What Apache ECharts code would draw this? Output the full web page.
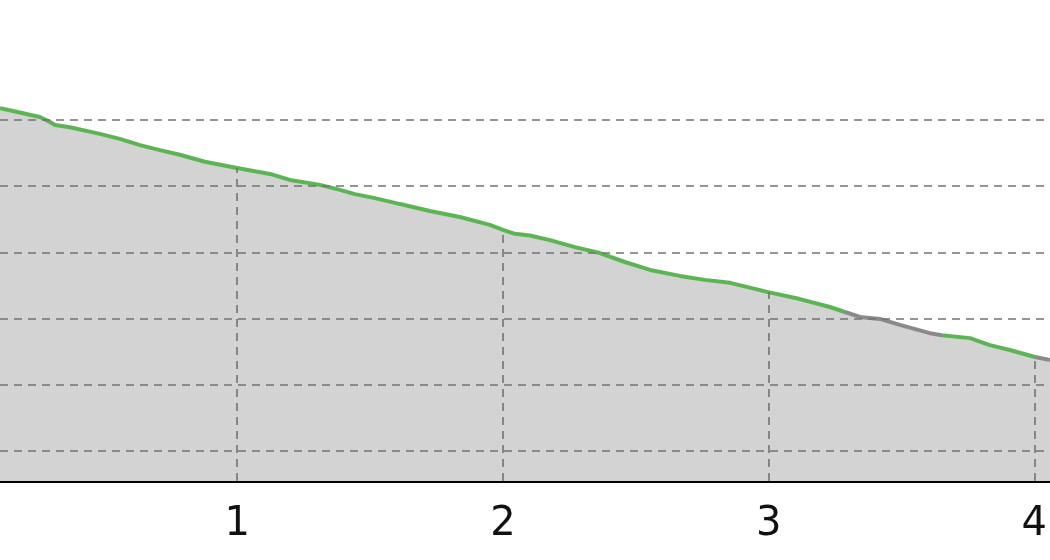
<!DOCTYPE html>
<html>
<head>
<meta charset="utf-8">
<script src="https://cdn.jsdelivr.net/npm/echarts@6/dist/echarts.min.js"></script>
<style>
html,body{margin:0;padding:0;background:#fff;}
#chart{width:1050px;height:560px;}
</style>
</head>
<body>
<div id="chart"></div>
<script>
// distance (x) and elevation (y)
const distance = [0.107,0.156,0.257,0.295,0.314,0.370,0.483,0.558,0.634,0.709,0.784,0.878,0.999,1.123,1.198,1.311,1.387,1.443,1.518,1.613,1.725,1.838,1.951,2.000,2.045,2.102,2.177,2.271,2.365,2.459,2.554,2.666,2.760,2.855,2.968,2.998,3.118,3.231,3.287,3.344,3.419,3.494,3.607,3.652,3.758,3.833,3.908,4.003,4.059];
const elevation = [203.6,202.7,200.9,199.4,198.5,197.8,195.8,194.3,192.4,190.9,189.5,187.4,185.5,183.7,181.9,180.4,178.9,177.6,176.4,174.6,172.5,170.7,168.3,166.8,165.6,165.1,163.7,161.6,159.8,157.1,154.7,152.9,151.7,150.8,148.6,148.0,145.9,143.5,142.0,140.5,139.9,138.1,135.6,135.0,134.1,132.0,130.5,128.4,127.5];
// ranges of distance drawn in gray instead of green
const grayRanges = [[3.287,3.652],[4.003,4.2]];
const xTicks = [1,2,3,4];
const yGridValues = [100,120,140,160,180,200];
const xMin = 0.107, xMax = 4.059, yMin = 90.94, yMax = 236.25;

const points = distance.map((d,i)=>[d, elevation[i]]);
function elevAt(x){
  for(let i=0;i<distance.length-1;i++){
    if(x>=distance[i] && x<=distance[i+1]){
      const t=(x-distance[i])/(distance[i+1]-distance[i]);
      return elevation[i]+t*(elevation[i+1]-elevation[i]);
    }
  }
  return elevation[elevation.length-1];
}
const green='#5cb553', gray='#8a8a8a';
const pieces=[];
let prev=-Infinity;
grayRanges.forEach(r=>{
  pieces.push({gte:prev, lt:r[0], color:green});
  pieces.push({gte:r[0], lt:r[1], color:gray});
  prev=r[1];
});
pieces.push({gte:prev, color:green});

const gridStyle={color:'#737373', width:1.6, type:[8,6]};
const chart=echarts.init(document.getElementById('chart'),null,{renderer:'canvas'});
chart.setOption({
  animation:false,
  grid:{left:0,right:0,top:0,bottom:79,containLabel:false},
  xAxis:{type:'value',min:xMin,max:xMax,splitNumber:4,
    axisLine:{show:true,onZero:false,lineStyle:{color:'#000',width:3}},
    axisTick:{show:false},splitLine:{show:false},
    axisLabel:{showMinLabel:false,showMaxLabel:false,fontSize:40,color:'#111',
      fontFamily:'DejaVu Sans',margin:24}},
  yAxis:{type:'value',min:yMin,max:yMax,show:false,splitLine:{show:false}},
  visualMap:{show:false,type:'piecewise',dimension:0,seriesIndex:1,pieces:pieces},
  series:[
    {type:'line',data:points,symbol:'none',z:2,
     lineStyle:{width:0},areaStyle:{color:'#d3d3d3',opacity:1,origin:'start'},
     markLine:{silent:true,symbol:'none',label:{show:false},lineStyle:gridStyle,
       data:[
         ...yGridValues.map(v=>({yAxis:v})),
         ...xTicks.map(t=>[{coord:[t,yMin]},{coord:[t,elevAt(t)]}])
       ]}},
    {type:'line',data:points,symbol:'none',z:3,lineStyle:{width:4}}
  ]
});
</script>
</body>
</html>
